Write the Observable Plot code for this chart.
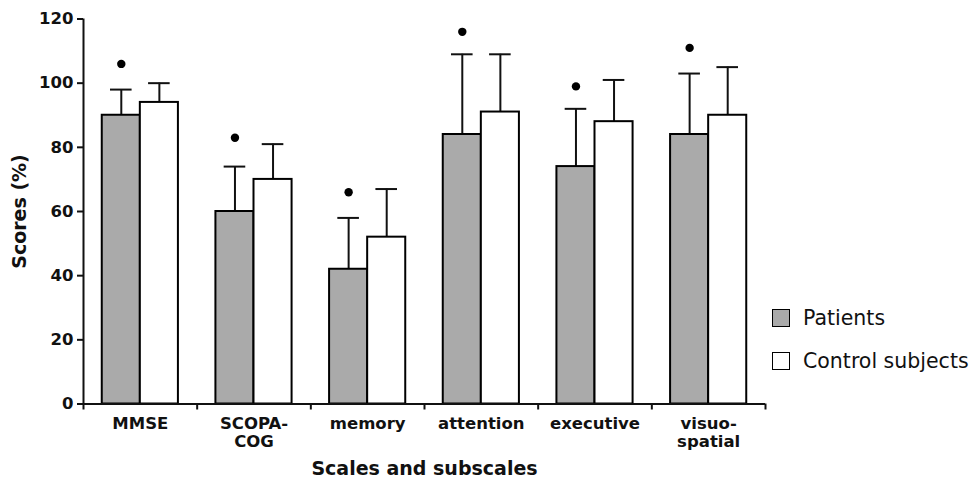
<!DOCTYPE html>
<html>
<head>
<meta charset="utf-8">
<script src="https://cdn.jsdelivr.net/npm/d3@7"></script>
<script src="https://cdn.jsdelivr.net/npm/@observablehq/plot@0.6"></script>
<style>
  body { margin: 0; background: #fff; }
  #wrap { position: relative; width: 975px; height: 479px; }
  #legend { position: absolute; left: 772px; top: 296.75px; font-family: "DejaVu Sans", sans-serif; font-size: 20.5px; color: #111; }
  .item { display: flex; align-items: center; height: 42.5px; white-space: nowrap; }
  .sw { width: 18px; height: 18px; border: 1.6px solid #000; box-sizing: border-box; margin-right: 13px; }
</style>
</head>
<body>
<div id="wrap"><div id="legend"></div></div>
<script>
// ---- data ----
const categories = ["MMSE", "SCOPA-\nCOG", "memory", "attention", "executive", "visuo-\nspatial"];
const series = ["Patients", "Control subjects"];
const seriesFill = ["#aaaaaa", "#ffffff"];
const patientMean = [90, 60, 42, 84, 74, 84];
const patientSD = [8, 14, 16, 25, 18, 19];
const controlMean = [94, 70, 52, 91, 88, 90];
const controlSD = [6, 11, 15, 18, 13, 15];
const significanceMarker = [106, 83, 66, 116, 99, 111];
const yTicks = [0, 20, 40, 60, 80, 100, 120];

// ---- layout within each category band ----
const barSpan = [[0.165, 0.5], [0.5, 0.835]];
const capHalf = 0.095;

const means = [patientMean, controlMean];
const sds = [patientSD, controlSD];
const rows = categories.flatMap((c, i) => series.map((s, k) => {
  const x1 = i + barSpan[k][0], x2 = i + barSpan[k][1];
  return {category: c, series: s, k, x1, x2, xc: (x1 + x2) / 2,
          mean: means[k][i], upper: means[k][i] + sds[k][i], marker: k === 0 ? significanceMarker[i] : null};
}));
const patientRows = rows.filter(d => d.k === 0);

const font = "'DejaVu Sans', sans-serif";
const chart = Plot.plot({
  width: 975,
  height: 479,
  marginLeft: 83,
  marginRight: 210,
  marginTop: 18.5,
  marginBottom: 75.5,
  style: {fontFamily: font, fontWeight: "bold", fontSize: "16px", color: "#111", background: "white"},
  x: {domain: [0, categories.length]},
  y: {domain: [0, 120]},
  color: {domain: series, range: seriesFill},
  marks: [
    Plot.axisY({ticks: yTicks, tickSize: 6, tickPadding: 4, strokeWidth: 2, fontSize: 16.5, fontWeight: "bold", fontFamily: font,
                label: null}),
    Plot.axisY({ticks: [], tickSize: 0, fontSize: 19, fontWeight: "bold", fontFamily: font,
                label: "Scores (%)", labelAnchor: "center", labelArrow: "none", labelOffset: 71}),
    Plot.axisX({ticks: d3.range(categories.length + 1), tickSize: 6, tickFormat: () => "", strokeWidth: 2,
                fontSize: 19, fontWeight: "bold", fontFamily: font,
                label: "Scales and subscales", labelAnchor: "center", labelArrow: "none", labelOffset: 71}),
    Plot.axisX({ticks: categories.map((c, i) => i + 0.5), tickSize: 0, tickPadding: 11.5, lineHeight: 1.13,
                fontSize: 16.5, fontWeight: "bold", fontFamily: font,
                tickFormat: d => categories[Math.floor(d)], label: null}),
    Plot.ruleX(rows, {x: "xc", y1: "mean", y2: "upper", strokeWidth: 2}),
    Plot.ruleY(rows, {y: "upper", x1: d => d.xc - capHalf, x2: d => d.xc + capHalf, strokeWidth: 2}),
    Plot.rect(rows, {x1: "x1", x2: "x2", y1: 0, y2: "mean", fill: "series", stroke: "black", strokeWidth: 2}),
    Plot.dot(patientRows, {x: "xc", y: "marker", r: 4.2, fill: "black", stroke: "none"}),
    Plot.ruleY([0], {strokeWidth: 2}),
    Plot.ruleX([0], {strokeWidth: 2})
  ]
});
const wrap = document.getElementById("wrap");
wrap.insertBefore(chart, wrap.firstChild);

const legend = document.getElementById("legend");
series.forEach((s, k) => {
  const item = document.createElement("div");
  item.className = "item";
  const sw = document.createElement("span");
  sw.className = "sw";
  sw.style.background = seriesFill[k];
  const label = document.createElement("span");
  label.textContent = s;
  item.appendChild(sw);
  item.appendChild(label);
  legend.appendChild(item);
});
</script>
</body>
</html>
